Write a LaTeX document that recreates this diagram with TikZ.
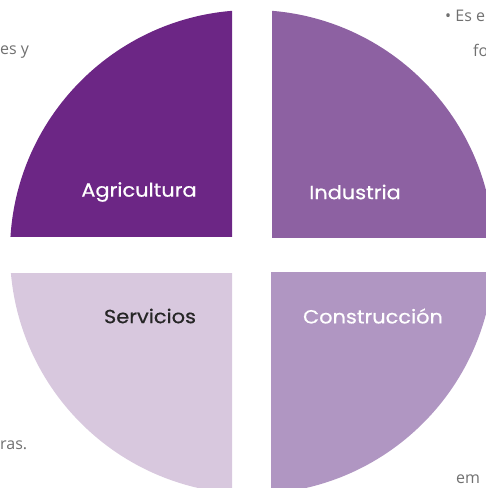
\documentclass[tikz,border=0pt]{standalone}
\usepackage{fontspec}
\setmainfont{Poppins}[FakeStretch=1.1, FakeBold=0.6]
\newfontfamily\notefont{Open Sans}
\usetikzlibrary{positioning}

\definecolor{agricol}{HTML}{6C2685}
\definecolor{indcol}{HTML}{8D61A2}
\definecolor{servcol}{HTML}{D8C8DE}
\definecolor{constcol}{HTML}{B096C2}
\definecolor{notegray}{HTML}{707070}

\begin{document}
\begin{tikzpicture} [x=1pt, y=-1pt,
  sectorlabel/.style = {font=\fontsize{19}{22}\selectfont, text=white, inner sep=0pt},
  notetext/.style = {font=\notefont\fontsize{16}{18}\selectfont, text=notegray, inner sep=0pt}]

\useasboundingbox (0,0) rectangle (486,488);
\clip (0,0) rectangle (486,488);

% quarters of one circle, cut by the cross
\begin{scope}
  \clip (0,0) rectangle (232,236);
  \fill [agricol] (252,252) circle (242);
\end{scope}
\begin{scope}
  \clip (272,0) rectangle (486,237);
  \fill [indcol] (252,252) circle (242);
\end{scope}
\begin{scope}
  \clip (0,273) rectangle (232,488);
  \fill [servcol] (252,252) circle (242);
\end{scope}
\begin{scope}
  \clip (271,272) rectangle (486,488);
  \fill [constcol] (252,252) circle (242);
\end{scope}

% labels
\node (agri)  [sectorlabel] at (139,192) {Agricultura};
\node (ind)   [sectorlabel] at (355,192) {Industria};
\node (serv)  [sectorlabel, text=black!85] at (150,316) {Servicios};
\node (const) [sectorlabel] at (373,316) {Construcción};

% cut-off notes round the chart
\node (noteA) [notetext, anchor=base west] at (0,54)   {es y};
\node (noteB) [notetext, anchor=base west] at (445,21) {• Es e};
\node (noteC) [notetext, anchor=base west] at (473,56) {fo};
\node (noteD) [notetext, anchor=base west] at (0,449)  {ras.};
\node (noteE) [notetext, anchor=base west] at (456,483) {em};
\end{tikzpicture}
\end{document}
